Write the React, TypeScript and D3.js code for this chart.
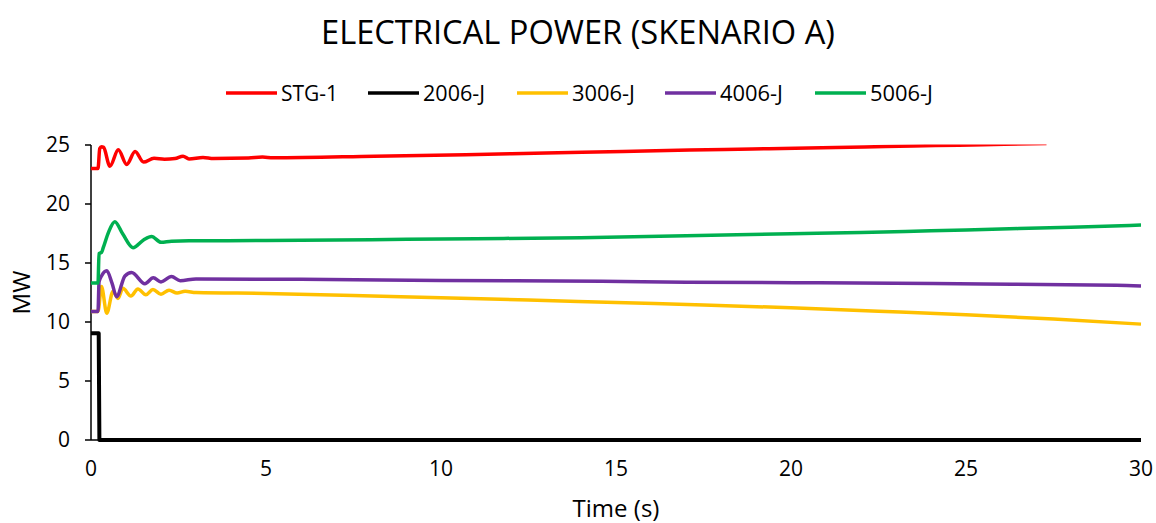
import React from "react";
import * as d3 from "d3";

// Axis ticks
const timeTicks = [0, 5, 10, 15, 20, 25, 30];
const mwTicks = [0, 5, 10, 15, 20, 25];

// Series data: [time (s), power (MW)]
const stg1: [number, number][] = [
  [0, 23.0], [0.2, 23.0], [0.25, 24.7], [0.3, 24.85], [0.36, 24.8], [0.54, 23.2],
  [0.78, 24.6], [1.02, 23.35], [1.26, 24.45], [1.5, 23.55], [1.8, 23.88],
  [2.1, 23.8], [2.4, 23.85], [2.63, 24.05], [2.8, 23.82], [3.2, 23.95],
  [3.5, 23.86], [4.5, 23.9], [4.9, 23.98], [5.2, 23.92], [8.1, 24.05],
  [10.7, 24.18], [13.0, 24.32], [15.2, 24.45], [17.1, 24.57], [18.9, 24.66],
  [20.5, 24.75], [22.1, 24.84], [23.5, 24.92], [24.8, 24.98], [26.1, 25.06],
  [27.3, 25.12],
];

const j2006: [number, number][] = [
  [0, 9.05], [0.22, 9.05], [0.24, 0], [30, 0],
];

const j3006: [number, number][] = [
  [0, 10.9], [0.2, 10.9], [0.3, 13.0], [0.45, 10.75], [0.63, 12.6], [0.77, 12.0],
  [0.91, 12.85], [1.14, 12.2], [1.34, 12.8], [1.57, 12.3], [1.77, 12.75],
  [2.0, 12.35], [2.23, 12.7], [2.46, 12.45], [2.69, 12.6], [3.0, 12.5],
  [5.0, 12.42], [7.5, 12.25], [10.0, 12.05], [12.5, 11.87], [15.0, 11.65],
  [17.5, 11.45], [20.0, 11.2], [22.5, 10.92], [25.0, 10.62], [27.5, 10.25],
  [30.0, 9.82],
];

const j4006: [number, number][] = [
  [0, 10.9], [0.2, 10.9], [0.23, 13.4], [0.3, 13.9], [0.45, 14.35], [0.6, 13.3],
  [0.73, 12.15], [0.97, 13.9], [1.16, 14.2], [1.54, 13.25], [1.78, 13.75],
  [2.0, 13.4], [2.3, 13.85], [2.55, 13.5], [3.0, 13.65], [6.0, 13.62],
  [10.0, 13.52], [14.6, 13.45], [17.0, 13.37], [20.8, 13.32], [25.5, 13.22],
  [29.3, 13.12], [30.0, 13.06],
];

const j5006: [number, number][] = [
  [0, 13.3], [0.2, 13.3], [0.23, 15.8], [0.3, 15.9], [0.35, 16.3], [0.5, 17.6],
  [0.68, 18.5], [0.9, 17.5], [1.2, 16.3], [1.5, 16.95], [1.73, 17.25],
  [2.0, 16.75], [2.3, 16.85], [2.8, 16.88], [5.0, 16.9], [8.0, 16.98],
  [11.0, 17.06], [14.0, 17.15], [17.0, 17.3], [20.0, 17.48], [22.0, 17.58],
  [24.0, 17.73], [26.0, 17.88], [28.0, 18.03], [30.0, 18.22],
];

const seriesNames = ["STG-1", "2006-J", "3006-J", "4006-J", "5006-J"];
const seriesColors = ["#FF0000", "#000000", "#FFC000", "#7030A0", "#00B050"];
const seriesData = [stg1, j2006, j3006, j4006, j5006];

const W = 1156;
const H = 523;
const plot = { left: 91, right: 1141, top: 145, bottom: 440 };
const FONT = "'Open Sans', 'Noto Sans', sans-serif";

export default function App() {
  const x = d3.scaleLinear().domain([0, 30]).range([plot.left, plot.right]);
  const y = d3.scaleLinear().domain([0, 25]).range([plot.bottom, plot.top]);
  const smooth = d3
    .line<[number, number]>()
    .x((d) => x(d[0]))
    .y((d) => y(d[1]))
    .curve(d3.curveMonotoneX);
  const straight = d3
    .line<[number, number]>()
    .x((d) => x(d[0]))
    .y((d) => y(d[1]));

  // draw order: later series on top, black drawn last at the baseline
  const order = [2, 3, 4, 0, 1];

  const legendX = [226, 368, 517, 665, 815];
  const legendTextW = [57, 62, 63, 63, 63];

  return (
    <svg
      width={W}
      height={H}
      style={{ position: "absolute", left: 0, top: 0, background: "#fff" }}
      fontFamily={FONT}
    >
      <defs>
        <clipPath id="plotClip">
          <rect
            x={plot.left - 3}
            y={y(25) - 0.5}
            width={plot.right - plot.left + 6}
            height={y(0) - y(25) + 6}
          />
        </clipPath>
      </defs>

      <text x={578} y={44} textAnchor="middle" fontSize={33} fill="#000" textLength={514} lengthAdjust="spacingAndGlyphs">
        ELECTRICAL POWER (SKENARIO A)
      </text>

      {seriesNames.map((name, i) => (
        <g key={name}>
          <line
            x1={legendX[i]}
            x2={legendX[i] + 51}
            y1={93}
            y2={93}
            stroke={seriesColors[i]}
            strokeWidth={3.5}
          />
          <text
            x={legendX[i] + 55}
            y={101}
            fontSize={21}
            fill="#000"
            textLength={legendTextW[i]}
            lengthAdjust="spacingAndGlyphs"
          >
            {name}
          </text>
        </g>
      ))}

      {/* y axis */}
      <line x1={plot.left} x2={plot.left} y1={y(25)} y2={y(0)} stroke="#000" strokeWidth={1.5} />
      {mwTicks.map((t) => (
        <g key={t}>
          <line x1={plot.left - 6} x2={plot.left} y1={y(t)} y2={y(t)} stroke="#000" strokeWidth={1.5} />
          <text x={70} y={y(t)} dy="0.35em" textAnchor="end" fontSize={21} fill="#000">
            {t}
          </text>
        </g>
      ))}
      <line x1={plot.left} x2={plot.right} y1={y(0)} y2={y(0)} stroke="#000" strokeWidth={1.5} />

      {timeTicks.map((t) => (
        <text key={t} x={x(t)} y={476} textAnchor="middle" fontSize={21} fill="#000">
          {t}
        </text>
      ))}

      <g clipPath="url(#plotClip)">
        {order.map((i) => (
          <path
            key={seriesNames[i]}
            d={(i === 1 ? straight : smooth)(seriesData[i]) ?? ""}
            fill="none"
            stroke={seriesColors[i]}
            strokeWidth={i === 1 ? 4 : 3.5}
            strokeLinejoin="round"
          />
        ))}
      </g>

      <text x={616} y={517} textAnchor="middle" fontSize={24} fill="#000">
        Time (s)
      </text>
      <text
        transform={`translate(30, ${(plot.top + plot.bottom) / 2}) rotate(-90)`}
        textAnchor="middle"
        fontSize={24}
        fill="#000"
      >
        MW
      </text>
    </svg>
  );
}
